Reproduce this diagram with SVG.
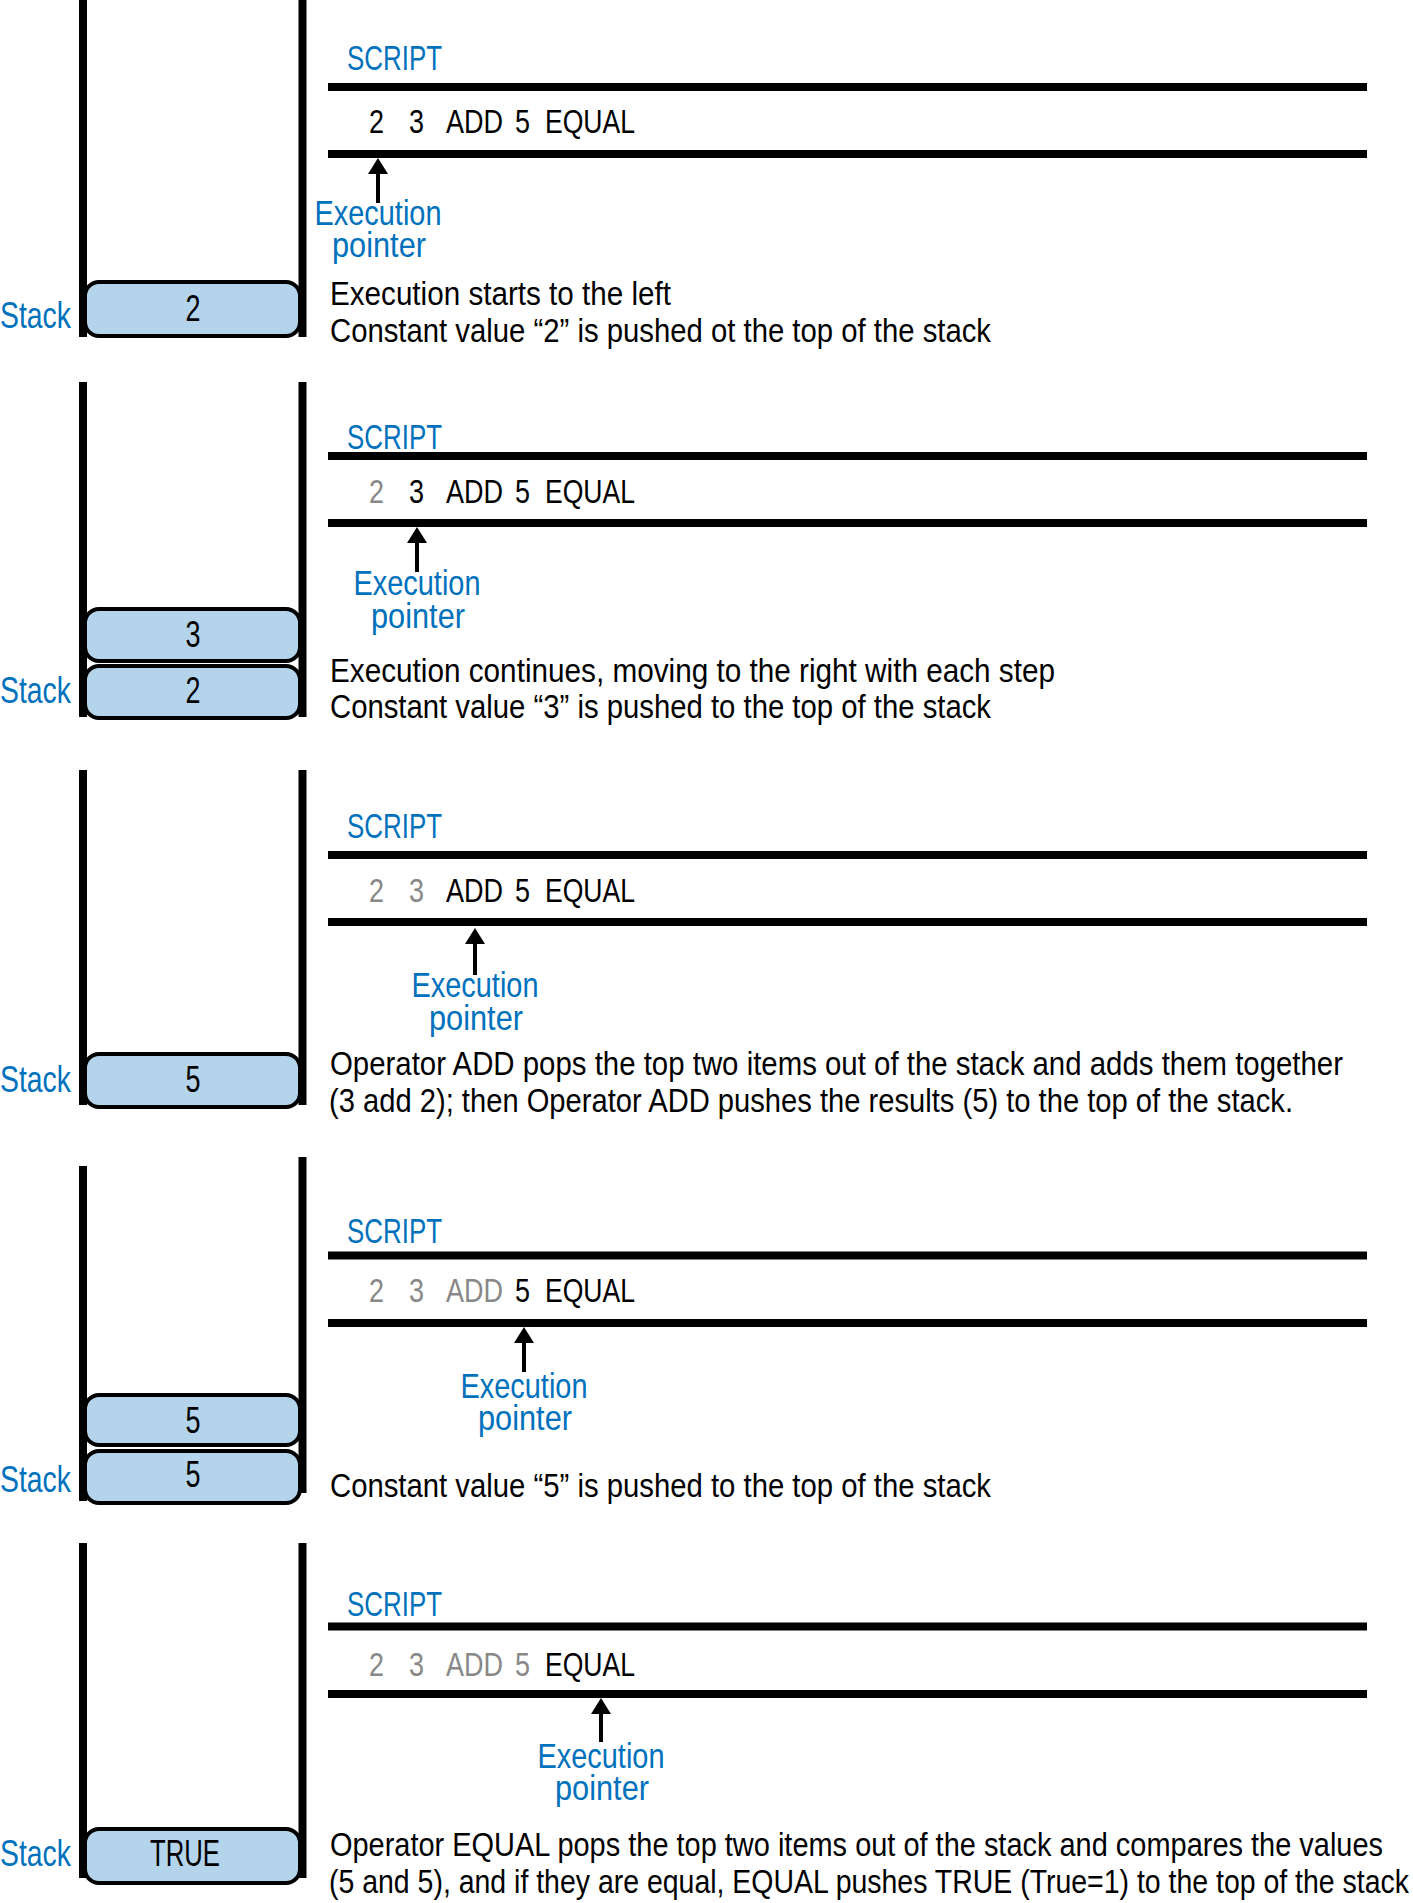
<svg xmlns="http://www.w3.org/2000/svg" width="1413" height="1903" viewBox="0 0 1413 1903">
<style>
text{font-family:"Liberation Sans",Arial,sans-serif;}
.wall{stroke:#000;stroke-width:8;fill:none;}
.box{fill:#b3d4ea;stroke:#000;stroke-width:4;}
.val{font-size:36px;fill:#000;text-anchor:middle;}
.stk{font-size:36px;fill:#0071bc;}
.scr{font-size:35px;fill:#0071bc;}
.rule{stroke:#000;stroke-width:8;}
.tok{font-size:34px;fill:#000;}
.done{fill:#888;}
.ptr{font-size:35px;fill:#0071bc;text-anchor:middle;}
.desc{font-size:33px;fill:#000;}
.arr{stroke:#000;stroke-width:4;fill:none;marker-end:url(#head);}
</style>
<defs>
<marker id="head" markerUnits="userSpaceOnUse" viewBox="0 0 16 20" refX="8" refY="10" markerWidth="16" markerHeight="20" orient="auto">
<path d="M0,0 L16,10 L0,20 z" fill="#000"/>
</marker>
</defs>
<rect width="1413" height="1903" fill="#fff"/>

<!-- Panel 1 -->
<g id="panel1">
<g id="stack1">
<line class="wall" x1="83" y1="0" x2="83" y2="337"/>
<line class="wall" x1="302.5" y1="0" x2="302.5" y2="337"/>
<text class="stk" x="0" y="328" textLength="71" lengthAdjust="spacingAndGlyphs">Stack</text>
</g>
<g id="p1-item2">
<rect class="box" x="85" y="282" width="215" height="54" rx="14"/>
<text class="val" x="193" y="321" textLength="15" lengthAdjust="spacingAndGlyphs">2</text>
</g>
<g id="script1">
<text class="scr" x="347" y="70" textLength="95" lengthAdjust="spacingAndGlyphs">SCRIPT</text>
<line class="rule" x1="328" y1="87" x2="1367" y2="87"/>
<line class="rule" x1="328" y1="154" x2="1367" y2="154"/>
<text class="tok" x="369" y="133" textLength="15" lengthAdjust="spacingAndGlyphs">2</text>
<text class="tok" x="409" y="133" textLength="15" lengthAdjust="spacingAndGlyphs">3</text>
<text class="tok" x="446" y="133" textLength="57" lengthAdjust="spacingAndGlyphs">ADD</text>
<text class="tok" x="515" y="133" textLength="15" lengthAdjust="spacingAndGlyphs">5</text>
<text class="tok" x="545" y="133" textLength="90" lengthAdjust="spacingAndGlyphs">EQUAL</text>
</g>
<g id="pointer1">
<text class="ptr" x="378" y="225" textLength="127" lengthAdjust="spacingAndGlyphs">Execution</text>
<text class="ptr" x="379" y="257" textLength="94" lengthAdjust="spacingAndGlyphs">pointer</text>
</g>
<g id="desc1">
<text class="desc" x="330" y="305" textLength="341" lengthAdjust="spacingAndGlyphs">Execution starts to the left</text>
<text class="desc" x="330" y="342" textLength="661" lengthAdjust="spacingAndGlyphs">Constant value “2” is pushed ot the top of the stack</text>
</g>
</g>

<!-- Panel 2 -->
<g id="panel2">
<g id="stack2">
<line class="wall" x1="83" y1="382" x2="83" y2="717"/>
<line class="wall" x1="302.5" y1="382" x2="302.5" y2="717"/>
<text class="stk" x="0" y="703" textLength="71" lengthAdjust="spacingAndGlyphs">Stack</text>
</g>
<g id="p2-item3">
<rect class="box" x="85" y="609" width="215" height="52" rx="14"/>
<text class="val" x="193" y="647" textLength="15" lengthAdjust="spacingAndGlyphs">3</text>
</g>
<g id="p2-item2">
<rect class="box" x="85" y="666" width="215" height="52" rx="14"/>
<text class="val" x="193" y="703" textLength="15" lengthAdjust="spacingAndGlyphs">2</text>
</g>
<g id="script2">
<text class="scr" x="347" y="449" textLength="95" lengthAdjust="spacingAndGlyphs">SCRIPT</text>
<line class="rule" x1="328" y1="456" x2="1367" y2="456"/>
<line class="rule" x1="328" y1="523" x2="1367" y2="523"/>
<text class="tok done" x="369" y="503" textLength="15" lengthAdjust="spacingAndGlyphs">2</text>
<text class="tok" x="409" y="503" textLength="15" lengthAdjust="spacingAndGlyphs">3</text>
<text class="tok" x="446" y="503" textLength="57" lengthAdjust="spacingAndGlyphs">ADD</text>
<text class="tok" x="515" y="503" textLength="15" lengthAdjust="spacingAndGlyphs">5</text>
<text class="tok" x="545" y="503" textLength="90" lengthAdjust="spacingAndGlyphs">EQUAL</text>
</g>
<g id="pointer2">
<text class="ptr" x="417" y="595" textLength="127" lengthAdjust="spacingAndGlyphs">Execution</text>
<text class="ptr" x="418" y="628" textLength="94" lengthAdjust="spacingAndGlyphs">pointer</text>
</g>
<g id="desc2">
<text class="desc" x="330" y="682" textLength="725" lengthAdjust="spacingAndGlyphs">Execution continues, moving to the right with each step</text>
<text class="desc" x="330" y="718" textLength="661" lengthAdjust="spacingAndGlyphs">Constant value “3” is pushed to the top of the stack</text>
</g>
</g>

<!-- Panel 3 -->
<g id="panel3">
<g id="stack3">
<line class="wall" x1="83" y1="770" x2="83" y2="1105"/>
<line class="wall" x1="302.5" y1="770" x2="302.5" y2="1105"/>
<text class="stk" x="0" y="1092" textLength="71" lengthAdjust="spacingAndGlyphs">Stack</text>
</g>
<g id="p3-item5">
<rect class="box" x="85" y="1054" width="215" height="53" rx="14"/>
<text class="val" x="193" y="1092" textLength="15" lengthAdjust="spacingAndGlyphs">5</text>
</g>
<g id="script3">
<text class="scr" x="347" y="838" textLength="95" lengthAdjust="spacingAndGlyphs">SCRIPT</text>
<line class="rule" x1="328" y1="855" x2="1367" y2="855"/>
<line class="rule" x1="328" y1="922" x2="1367" y2="922"/>
<text class="tok done" x="369" y="902" textLength="15" lengthAdjust="spacingAndGlyphs">2</text>
<text class="tok done" x="409" y="902" textLength="15" lengthAdjust="spacingAndGlyphs">3</text>
<text class="tok" x="446" y="902" textLength="57" lengthAdjust="spacingAndGlyphs">ADD</text>
<text class="tok" x="515" y="902" textLength="15" lengthAdjust="spacingAndGlyphs">5</text>
<text class="tok" x="545" y="902" textLength="90" lengthAdjust="spacingAndGlyphs">EQUAL</text>
</g>
<g id="pointer3">
<text class="ptr" x="475" y="997" textLength="127" lengthAdjust="spacingAndGlyphs">Execution</text>
<text class="ptr" x="476" y="1030" textLength="94" lengthAdjust="spacingAndGlyphs">pointer</text>
</g>
<g id="desc3">
<text class="desc" x="330" y="1075" textLength="1013" lengthAdjust="spacingAndGlyphs">Operator ADD pops the top two items out of the stack and adds them together</text>
<text class="desc" x="329" y="1112" textLength="964" lengthAdjust="spacingAndGlyphs">(3 add 2); then Operator ADD pushes the results (5) to the top of the stack.</text>
</g>
</g>

<!-- Panel 4 -->
<g id="panel4">
<g id="stack4">
<line class="wall" x1="83" y1="1166" x2="83" y2="1501"/>
<line class="wall" x1="302.5" y1="1157" x2="302.5" y2="1493"/>
<text class="stk" x="0" y="1492" textLength="71" lengthAdjust="spacingAndGlyphs">Stack</text>
</g>
<g id="p4-item5top">
<rect class="box" x="85" y="1395" width="215" height="50" rx="14"/>
<text class="val" x="193" y="1433" textLength="15" lengthAdjust="spacingAndGlyphs">5</text>
</g>
<g id="p4-item5">
<rect class="box" x="85" y="1451" width="215" height="52" rx="14"/>
<text class="val" x="193" y="1487" textLength="15" lengthAdjust="spacingAndGlyphs">5</text>
</g>
<g id="script4">
<text class="scr" x="347" y="1243" textLength="95" lengthAdjust="spacingAndGlyphs">SCRIPT</text>
<line class="rule" x1="328" y1="1255.5" x2="1367" y2="1255.5"/>
<line class="rule" x1="328" y1="1323" x2="1367" y2="1323"/>
<text class="tok done" x="369" y="1302" textLength="15" lengthAdjust="spacingAndGlyphs">2</text>
<text class="tok done" x="409" y="1302" textLength="15" lengthAdjust="spacingAndGlyphs">3</text>
<text class="tok done" x="446" y="1302" textLength="57" lengthAdjust="spacingAndGlyphs">ADD</text>
<text class="tok" x="515" y="1302" textLength="15" lengthAdjust="spacingAndGlyphs">5</text>
<text class="tok" x="545" y="1302" textLength="90" lengthAdjust="spacingAndGlyphs">EQUAL</text>
</g>
<g id="pointer4">
<text class="ptr" x="524" y="1398" textLength="127" lengthAdjust="spacingAndGlyphs">Execution</text>
<text class="ptr" x="525" y="1430" textLength="94" lengthAdjust="spacingAndGlyphs">pointer</text>
</g>
<g id="desc4">
<text class="desc" x="330" y="1497" textLength="661" lengthAdjust="spacingAndGlyphs">Constant value “5” is pushed to the top of the stack</text>
</g>
</g>

<!-- Panel 5 -->
<g id="panel5">
<g id="stack5">
<line class="wall" x1="83" y1="1543" x2="83" y2="1878"/>
<line class="wall" x1="302.5" y1="1543" x2="302.5" y2="1878"/>
<text class="stk" x="0" y="1866" textLength="71" lengthAdjust="spacingAndGlyphs">Stack</text>
</g>
<g id="p5-itemTRUE">
<rect class="box" x="85" y="1829" width="215" height="54" rx="14"/>
<text class="val" x="185" y="1866" textLength="70" lengthAdjust="spacingAndGlyphs">TRUE</text>
</g>
<g id="script5">
<text class="scr" x="347" y="1616" textLength="95" lengthAdjust="spacingAndGlyphs">SCRIPT</text>
<line class="rule" x1="328" y1="1626.5" x2="1367" y2="1626.5"/>
<line class="rule" x1="328" y1="1694" x2="1367" y2="1694"/>
<text class="tok done" x="369" y="1676" textLength="15" lengthAdjust="spacingAndGlyphs">2</text>
<text class="tok done" x="409" y="1676" textLength="15" lengthAdjust="spacingAndGlyphs">3</text>
<text class="tok done" x="446" y="1676" textLength="57" lengthAdjust="spacingAndGlyphs">ADD</text>
<text class="tok done" x="515" y="1676" textLength="15" lengthAdjust="spacingAndGlyphs">5</text>
<text class="tok" x="545" y="1676" textLength="90" lengthAdjust="spacingAndGlyphs">EQUAL</text>
</g>
<g id="pointer5">
<text class="ptr" x="601" y="1768" textLength="127" lengthAdjust="spacingAndGlyphs">Execution</text>
<text class="ptr" x="602" y="1800" textLength="94" lengthAdjust="spacingAndGlyphs">pointer</text>
</g>
<g id="desc5">
<text class="desc" x="330" y="1856" textLength="1053" lengthAdjust="spacingAndGlyphs">Operator EQUAL pops the top two items out of the stack and compares the values</text>
<text class="desc" x="329" y="1893" textLength="1080" lengthAdjust="spacingAndGlyphs">(5 and 5), and if they are equal, EQUAL pushes TRUE (True=1) to the top of the stack</text>
</g>
</g>

<!-- Connectors: execution pointer arrows -->
<g id="connectors">
<line class="arr" x1="378" y1="203" x2="378" y2="166"/>
<line class="arr" x1="417" y1="572" x2="417" y2="535"/>
<line class="arr" x1="475" y1="975" x2="475" y2="936"/>
<line class="arr" x1="524" y1="1372" x2="524" y2="1335"/>
<line class="arr" x1="601" y1="1742" x2="601" y2="1706"/>
</g>
</svg>
